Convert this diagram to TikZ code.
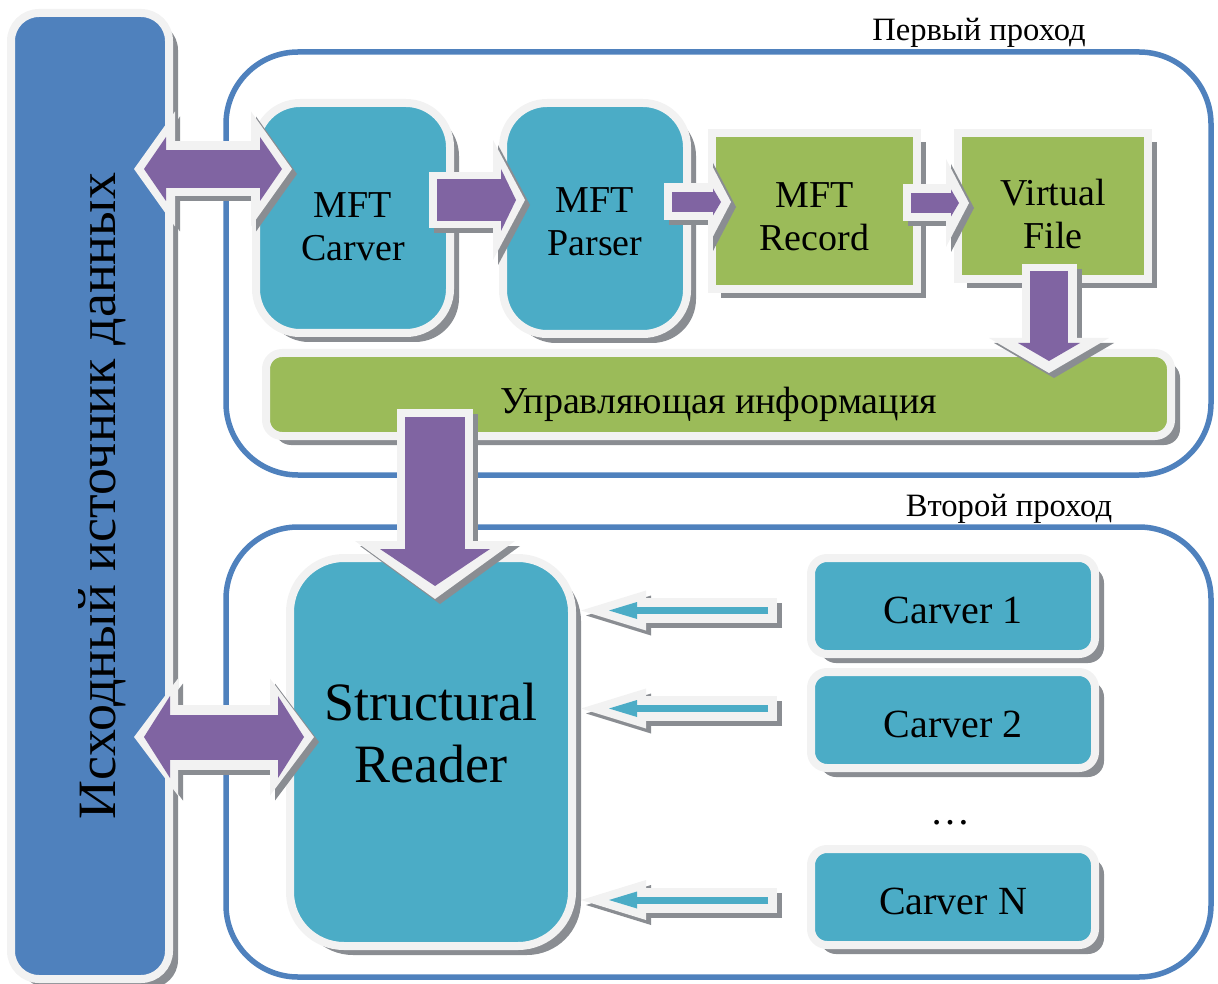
\documentclass[tikz,border=0pt]{standalone}
\usepackage{fontspec}
\setmainfont{Liberation Serif}
\usepackage{graphicx}
\usepackage{tikz}
\usetikzlibrary{arrows.meta,shadows,calc}
\definecolor{srcblue}{HTML}{4F81BD}
\definecolor{boxteal}{HTML}{4BACC6}
\definecolor{boxgreen}{HTML}{9BBB59}
\definecolor{arrowvio}{HTML}{8064A2}
\definecolor{rim}{HTML}{F2F2F2}
\definecolor{shade}{HTML}{8A8D92}
\tikzset{
  boxshadow/.style={drop shadow={shadow xshift=4.5pt, shadow yshift=-4.5pt, fill=shade, opacity=1}},
  srcbar/.style={draw=rim, line width=4pt, fill=srcblue, rounded corners=14pt, minimum width=79pt, minimum height=483pt, boxshadow, font=\fontsize{27}{30}\selectfont},
  stagebox/.style={draw=rim, line width=4pt, fill=boxteal, rounded corners=22pt, boxshadow, text depth=0pt, font=\fontsize{19}{21.5}\selectfont},
  recbox/.style={stagebox, fill=boxgreen, sharp corners},
  infobar/.style={stagebox, fill=boxgreen, rounded corners=8pt, minimum width=452.5pt, minimum height=41.5pt, text height=19pt},
  readerbox/.style={stagebox, rounded corners=27pt, minimum width=141pt, minimum height=194pt, text height=30pt, font=\fontsize{27}{31}\selectfont},
  carverbox/.style={stagebox, rounded corners=8pt, minimum width=142pt, minimum height=48pt, text height=17.5pt, font=\fontsize{20}{24}\selectfont},
  passbox/.style={draw=srcblue, line width=2.75pt, rounded corners=36pt},
  passlabel/.style={font=\fontsize{16.3}{19}\selectfont},
  dbl rim/.style={draw=rim, line width=27.5pt, {Triangle[length=20.5pt,width=57.5pt,line width=0pt]}-{Triangle[length=20.5pt,width=57.5pt,line width=0pt]}},
  dbl body/.style={draw=arrowvio, line width=19pt, {Triangle[length=11pt,width=32pt,line width=0pt]}-{Triangle[length=11pt,width=32pt,line width=0pt]}, shorten <=5pt, shorten >=5pt},
  bigdbl rim/.style={draw=rim, line width=32.5pt, {Triangle[length=22pt,width=58.5pt,line width=0pt]}-{Triangle[length=22pt,width=58.5pt,line width=0pt]}},
  bigdbl body/.style={draw=arrowvio, line width=22.5pt, {Triangle[length=13pt,width=41pt,line width=0pt]}-{Triangle[length=13pt,width=41pt,line width=0pt]}, shorten <=5pt, shorten >=5pt},
  wide rim/.style={draw=rim, line width=28pt, -{Triangle[length=16pt,width=60pt,line width=0pt]}},
  wide body/.style={draw=arrowvio, line width=21pt, -{Triangle[length=7.5pt,width=31pt,line width=0pt]}, shorten <=4pt, shorten >=4.5pt},
  thin rim/.style={draw=rim, line width=18.5pt, -{Triangle[length=11.5pt,width=44pt,line width=0pt]}},
  thin body/.style={draw=arrowvio, line width=10pt, -{Triangle[length=4pt,width=13.5pt,line width=0pt]}, shorten <=4pt, shorten >=5pt},
  down rim/.style={draw=rim, line width=27.5pt, -{Triangle[length=17.5pt,width=60pt,line width=0pt]}},
  down body/.style={draw=arrowvio, line width=19pt, -{Triangle[length=9pt,width=31pt,line width=0pt]}, shorten <=3.5pt, shorten >=6pt},
  bigdown rim/.style={draw=rim, line width=38pt, -{Triangle[length=29pt,width=80pt,line width=0pt]}},
  bigdown body/.style={draw=arrowvio, line width=30pt, -{Triangle[length=18.5pt,width=55pt,line width=0pt]}, shorten <=4pt, shorten >=6.5pt},
  feed rim/.style={draw=rim, line width=12.5pt, -{Triangle[length=32.5pt,width=20pt,line width=0pt]}},
  feed body/.style={draw=boxteal, line width=3.5pt, -{Triangle[length=14pt,width=8.5pt,line width=0pt]}, shorten <=4.5pt, shorten >=14pt}
}
% two centred lines, baseline on the lower one
\newcommand{\twoline}[2]{\begin{tabular}[b]{@{}c@{}}#1\\#2\end{tabular}}
% shadow, rim, body
\newcommand{\fatarrow}[3]{%
  \draw[#1 rim, draw=shade, transform canvas={shift={(2.5pt,-2.5pt)}}] #2 -- #3;
  \draw[#1 rim] #2 -- #3;
  \draw[#1 body] #2 -- #3;}

\begin{document}
\begin{tikzpicture}[x=0.5pt, y=-0.5pt]
  \useasboundingbox (0,0) rectangle (1218,983);
  \node[passbox, minimum width=492.5pt, minimum height=211.5pt] (pass1) at (718.5,263.5) {};
  \node[passbox, minimum width=492.5pt, minimum height=225pt] (pass2) at (718.5,752) {};
  \node[passlabel] (lbl1) at (979,33) {Первый проход};
  \node[passlabel] (lbl2) at (1009,509) {Второй проход};

  \node[srcbar] (src) at (90,496) {\hspace*{12pt}\rotatebox{90}{Исходный источник данных}};

  \node[stagebox, minimum width=97pt, minimum height=115pt, text height=42.5pt] (carver) at (353,218) {\twoline{MFT}{Carver}};
  \node[stagebox, minimum width=92pt, minimum height=115.5pt, text height=37pt] (parser) at (595,218.5) {\twoline{MFT}{Parser}};
  \node[recbox, minimum width=102.5pt, minimum height=78pt, text height=39.5pt] (record) at (814.5,211) {\twoline{MFT}{Record}};
  \node[recbox, minimum width=95pt, minimum height=73pt, text height=43pt] (virtual) at (1053,206) {\twoline{Virtual}{File}};
  \node[infobar] (info) at (718.5,394.5) {Управляющая информация};

  \node[readerbox] (reader) at (431,752) {\twoline{Structural}{Reader}};
  \node[carverbox] (carver1) at (953,606) {Carver 1};
  \node[carverbox] (carver2) at (953,720) {Carver 2};
  \node[font=\fontsize{20}{24}\selectfont] (dots) at (950,823) {\ldots};
  \node[carverbox] (carverN) at (953,897) {Carver N};

  \fatarrow{dbl}{($(src.east |- carver.west)+(-39,-49)$)}{($(carver.west)+(40,-49)$)}
  \fatarrow{bigdbl}{($(src.east |- reader.west)+(-39,-15)$)}{($(reader.west)+(28,-15)$)}
  \fatarrow{wide}{($(carver.east)+(-25,-18)$)}{($(parser.west |- carver.east)+(26,-18)$)}
  \fatarrow{thin}{($(parser.east)+(-27,-16.5)$)}{($(record.west |- parser.east)+(23,-16.5)$)}
  \fatarrow{thin}{($(record.east)+(-18,-8)$)}{($(virtual.west |- record.east)+(15,-8)$)}
  \fatarrow{down}{($(virtual.south)+(-4,-19)$)}{($(virtual.south |- info.north)+(-4,24)$)}
  \fatarrow{bigdown}{($(reader.north |- info.south)+(4,-31)$)}{($(reader.north)+(4,45)$)}
  \foreach \cv/\dy in {carver1/4.5, carver2/-11.5, carverN/3}
    \fatarrow{feed}{($(\cv.west)+(-30,\dy)$)}{($(reader.east |- \cv.west)+(5,\dy)$)};
\end{tikzpicture}
\end{document}
